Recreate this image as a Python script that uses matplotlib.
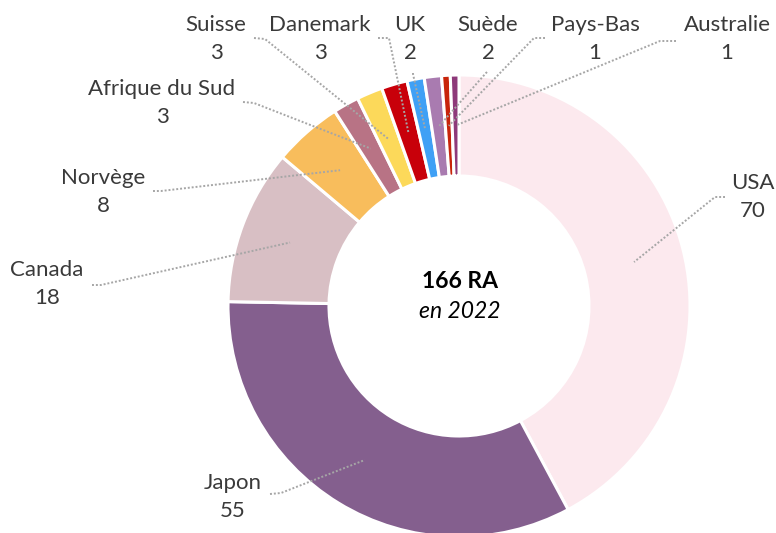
import matplotlib
matplotlib.use("Agg")
import matplotlib.pyplot as plt
import numpy as np

# ---- data ----
countries = ["USA", "Japon", "Canada", "Norvège", "Afrique du Sud", "Suisse",
             "Danemark", "UK", "Suède", "Pays-Bas", "Australie"]
values = [70, 55, 18, 8, 3, 3, 3, 2, 2, 1, 1]
colors = ["#FCE9EE", "#845F8E", "#D8BFC4", "#F8BD5C", "#B87385", "#FCD95A",
          "#C8000A", "#3FA0F5", "#A97BB0", "#C8240A", "#8E3A7A"]
center_title = "166 RA"
center_sub = "en 2022"

# ---- layout (pixels, from top-left) ----
W, H = 776, 533
cx, cy, R, Rin = 459, 306, 231, 130
# label centre, leader start, leader elbow
label_layout = {
    "USA": ((753, 197), (725, 197), (715, 197)),
    "Japon": ((233, 497), (270, 494), (281, 493)),
    "Canada": ((47, 284), (92, 285), (101, 285)),
    "Norvège": ((103, 192), (153, 191), (161, 191)),
    "Afrique du Sud": ((162, 103), (243, 102), (254, 103)),
    "Suisse": ((216, 39), (254, 38), (265, 39)),
    "Danemark": ((320, 39), (378, 38), (389, 38)),
    "UK": ((410, 39), (413, 73), (413, 74)),
    "Suède": ((488, 39), (487, 72), (486, 73)),
    "Pays-Bas": ((595, 39), (545, 38), (534, 38)),
    "Australie": ((727, 39), (676, 41), (660, 41)),
}

plt.rcParams['font.family'] = ['Lato', 'DejaVu Sans']

fig = plt.figure(figsize=(W / 100, H / 100), dpi=100)
ax = fig.add_axes([0, 0, 1, 1])


def px(x, y):
    return ((x - cx) / R, (cy - y) / R)


wedges, _ = ax.pie(values, colors=colors, startangle=90, counterclock=False,
                   radius=1.0,
                   wedgeprops=dict(width=1 - Rin / R, edgecolor="white",
                                   linewidth=2.2))
ax.set_xlim(-cx / R, (W - cx) / R)
ax.set_ylim(-(H - cy) / R, cy / R)
ax.set_aspect("equal")
ax.axis("off")

rmid = (1 + Rin / R) / 2
for name, val, w in zip(countries, values, wedges):
    (lx, ly), (sx, sy), (ex, ey) = label_layout[name]
    ang = np.deg2rad((w.theta1 + w.theta2) / 2)
    tx, ty = rmid * np.cos(ang), rmid * np.sin(ang)
    p0 = px(sx, sy)
    p1 = px(ex, ey)
    ax.plot([p0[0], p1[0], tx], [p0[1], p1[1], ty], color="#A6A6A6",
            lw=1.4, linestyle=(0, (1, 1)), zorder=5)
    x, y = px(lx, ly)
    ax.text(x, y, f"{name}\n{val}", ha="center", va="center",
            fontsize=16, color="#3A3A3A", linespacing=1.5)

x, y = px(460, 282)
ax.text(x, y, center_title, ha="center", va="center", fontsize=16.5,
        fontweight="bold", color="black")
x, y = px(460, 312)
ax.text(x, y, center_sub, ha="center", va="center", fontsize=16.5,
        fontstyle="italic", color="black")

fig.savefig("out.png", dpi=100, facecolor="white")
